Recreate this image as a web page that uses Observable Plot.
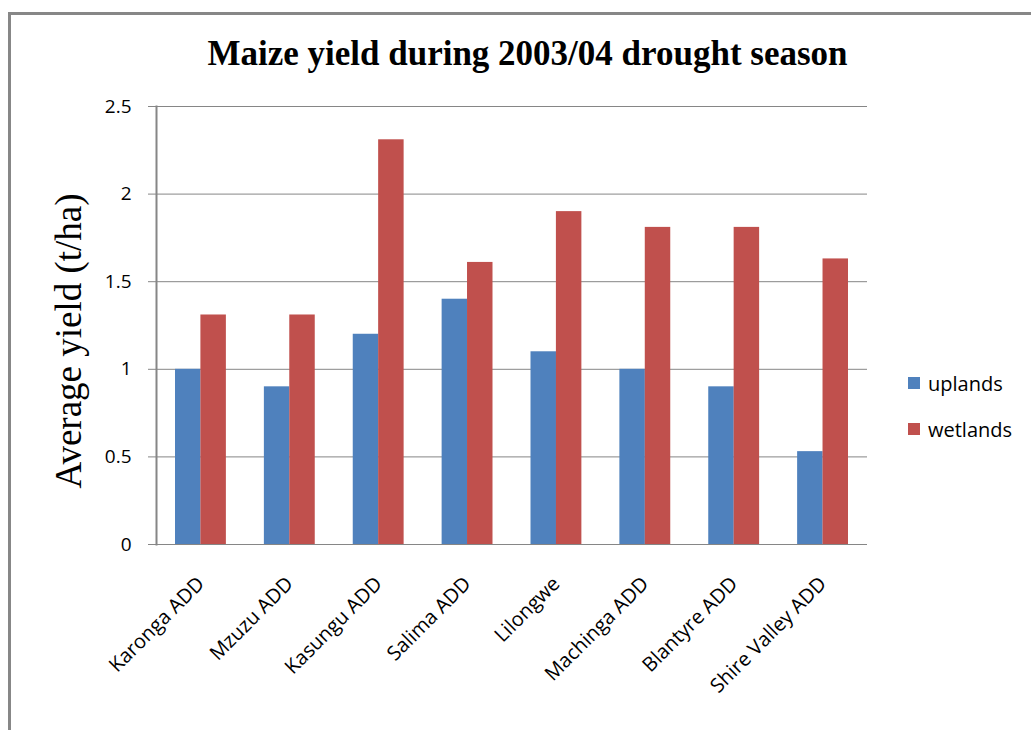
<!DOCTYPE html>
<html>
<head>
<meta charset="utf-8">
<script src="https://cdn.jsdelivr.net/npm/d3@7"></script>
<script src="https://cdn.jsdelivr.net/npm/@observablehq/plot@0.6"></script>
<style>
  html, body { margin: 0; padding: 0; background: #fff; }
  #chart { position: relative; width: 1031px; height: 730px; overflow: hidden; }
  #chart svg { position: absolute; left: 0; top: 0; }
  .frame-left { position: absolute; left: 8px; top: 12px; width: 3px; height: 718px; background: #878787; }
  .frame-top { position: absolute; left: 8px; top: 12px; right: 0; height: 3px; background: #878787; }
  .title { position: absolute; left: 12px; top: 36px; width: 1031px; text-align: center;
           font: bold 35px "Liberation Serif", "Times New Roman", serif; line-height: 1; color: #000; }
  .ylabel { position: absolute; left: 68px; top: 341px; transform: translate(-50%, -50%) rotate(-90deg);
            white-space: nowrap; font: 37px "Liberation Serif", "Times New Roman", serif; line-height: 1; color: #000; }
  .legend { position: absolute; left: 908px; top: 370px; font: 20px "Open Sans", sans-serif; color: #000; }
  .legend .item { display: flex; align-items: center; height: 26px; margin-bottom: 20px; }
  .legend .sw { width: 12px; height: 12px; margin-right: 8px; }
</style>
</head>
<body>
<div id="chart">
  <div class="frame-left"></div>
  <div class="frame-top"></div>
  <div class="title">Maize yield during 2003/04 drought season</div>
  <div class="ylabel">Average yield (t/ha)</div>
</div>
<script>
// Agricultural Development Divisions (ADD) of Malawi
const districts = ["Karonga ADD", "Mzuzu ADD", "Kasungu ADD", "Salima ADD", "Lilongwe", "Machinga ADD", "Blantyre ADD", "Shire Valley ADD"];
// Average maize yield, t/ha
const uplands = [1.0, 0.9, 1.2, 1.4, 1.1, 1.0, 0.9, 0.53];
const wetlands = [1.31, 1.31, 2.31, 1.61, 1.9, 1.81, 1.81, 1.63];
const series = ["uplands", "wetlands"];
const colors = ["#4F81BD", "#C0504D"];
const yTicks = [0, 0.5, 1, 1.5, 2, 2.5];

const rows = districts.flatMap((d, i) => [
  {district: d, series: "uplands", value: uplands[i]},
  {district: d, series: "wetlands", value: wetlands[i]}
]);

const gray = "#868686";
const tickFont = "'Open Sans', sans-serif";

const plot = Plot.plot({
  width: 1031,
  height: 730,
  marginLeft: 156,
  marginRight: 164,
  marginTop: 106,
  marginBottom: 186,
  style: {background: "transparent", fontFamily: tickFont, fontSize: "17px", color: "#000", overflow: "visible"},
  x: {type: "band", domain: districts, padding: 0, round: false, label: null},
  y: {domain: [0, 2.5], label: null},
  color: {domain: series, range: colors},
  marks: [
    Plot.ruleY(yTicks, {stroke: gray, strokeWidth: 1, strokeOpacity: 1}),
    Plot.axisY({ticks: yTicks, tickFormat: d => String(d), tickSize: 8, tickPadding: 17, stroke: gray, fontSize: 19, fill: "#000"}),
    Plot.axisX({tickSize: 0, tickRotate: -45, tickPadding: 36, fontSize: 20, fill: "#000"}),
    // uplands: left half of each grouped pair
    Plot.barY(rows.filter(r => r.series === "uplands"),
      {x: "district", y: "value", fill: "series", insetLeft: 19, insetRight: 44.4}),
    // wetlands: right half of each grouped pair
    Plot.barY(rows.filter(r => r.series === "wetlands"),
      {x: "district", y: "value", fill: "series", insetLeft: 44.4, insetRight: 19}),
    // vertical value axis line
    Plot.frame({anchor: "left", stroke: gray, strokeWidth: 2}),
    Plot.ruleY([0], {stroke: gray, strokeWidth: 1})
  ]
});

const chart = document.getElementById("chart");
chart.appendChild(plot);

// Legend
const legend = document.createElement("div");
legend.className = "legend";
series.forEach((s, i) => {
  const item = document.createElement("div");
  item.className = "item";
  const sw = document.createElement("span");
  sw.className = "sw";
  sw.style.background = colors[i];
  const label = document.createElement("span");
  label.textContent = s;
  item.appendChild(sw);
  item.appendChild(label);
  legend.appendChild(item);
});
chart.appendChild(legend);
</script>
</body>
</html>
